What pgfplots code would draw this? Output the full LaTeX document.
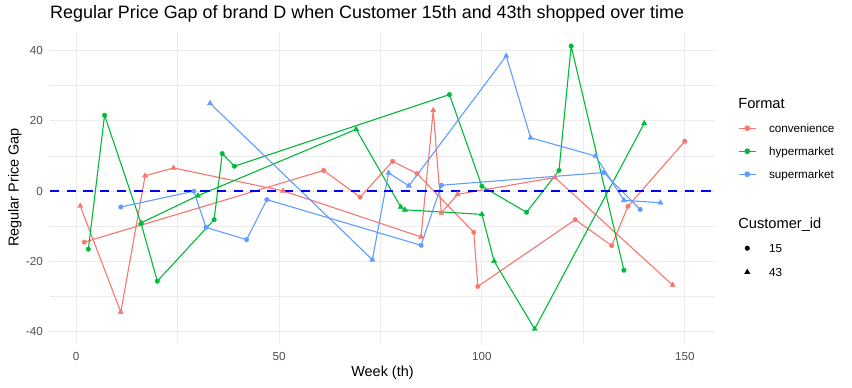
\documentclass[border=0pt]{standalone}
\usepackage{fontspec}
\setmainfont{Liberation Sans}
\usepackage{pgfplots}
\pgfplotsset{compat=1.18}
\definecolor{conv}{HTML}{F8766D}
\definecolor{hyper}{HTML}{00BA38}
\definecolor{super}{HTML}{619CFF}
\definecolor{gridc}{HTML}{EBEBEB}
\definecolor{tickc}{HTML}{4D4D4D}
\newcommand{\fs}[1]{\fontsize{#1}{#1}\selectfont}
\pgfplotsset{ptlegend/.style={legend image code/.code={\node[inner sep=0pt, outer sep=0pt, anchor=center, minimum width=0.6cm, minimum height=0.5pt, draw=none, fill=none] at (0.3cm,0cm) {}; \draw[##1, only marks, mark repeat=2, mark phase=2] plot coordinates {(0cm,0cm) (0.3cm,0cm) (0.6cm,0cm)};}}}
\begin{document}
\begin{tikzpicture}
\useasboundingbox (-50bp,-45bp) rectangle (802bp,343bp);
\begin{axis}[
 at={(0,0)}, anchor=south west,
 scale only axis, width=665bp, height=311bp,
 xmin=-6.45, xmax=157.45, ymin=-43.2, ymax=45.3,
 axis line style={draw=none},
 major tick length=0pt, minor tick length=0pt,
 xtick={0,50,100,150}, xticklabels={0,50,100,150},
 minor xtick={25,75,125},
 ytick={-40,-20,0,20,40}, yticklabels={-40,-20,0,20,40},
 minor ytick={-30,-10,10,30},
 grid=both,
 major grid style={gridc, line width=1bp},
 minor grid style={gridc, line width=0.55bp},
 xticklabel style={font=\fs{11.7}, text=tickc, anchor=north, inner sep=0pt, yshift=-8.8bp},
 yticklabel style={font=\fs{11.7}, text=tickc, anchor=east, inner sep=0pt, xshift=-7bp},
 xlabel={Week (th)}, ylabel={Regular Price Gap},
 xlabel style={font=\fs{14.5}, at={(axis description cs:0.5,-0.1093)}, anchor=base, inner sep=0pt},
 ylabel style={font=\fs{14.5}, at={(axis description cs:-0.0472,0.5)}, anchor=base, inner sep=0pt},
 title={Regular Price Gap of brand D when Customer 15th and 43th shopped over time},
 title style={font=\fs{18}, at={(axis description cs:0,1.0257)}, anchor=base west, inner sep=0pt},
 legend style={at={(axis description cs:1.0346,0.8151)}, anchor=north west, draw=none, fill=none, inner sep=0pt, row sep=0pt, column sep=12.7bp, nodes={inner sep=0pt, text depth=}, font=\fs{11.7}},
 legend cell align=left,
]
% convenience
\addplot[conv, line width=1.1bp, mark=*, mark size=2.3bp, mark options={solid, line width=0.3bp}, forget plot] coordinates {
(2,-14.5) (61,5.9) (70,-1.7) (78,8.5) (84,5.0) (98,-11.7) (99,-27.1) (123,-8.1) (132,-15.5) (136,-4.3) (150,14.2)};
\addplot[conv, line width=1.1bp, mark=triangle*, mark size=3.1bp, mark options={solid, line width=0.3bp}, forget plot] coordinates {
(1,-4.2) (11,-34.4) (17,4.4) (24,6.6) (51,0.1) (85,-13.0) (88,23.0) (90,-6.2) (94,-0.9) (118,3.9) (147,-26.7)};
% hypermarket
\addplot[hyper, line width=1.1bp, mark=*, mark size=2.3bp, mark options={solid, line width=0.3bp}, forget plot] coordinates {
(3,-16.5) (7,21.6) (16,-9.2) (20,-25.6) (34,-8.1) (36,10.7) (39,7.1) (92,27.5) (100,1.4) (111,-6.0) (119,5.9) (122,41.3) (135,-22.5)};
\addplot[hyper, line width=1.1bp, mark=triangle*, mark size=3.1bp, mark options={solid, line width=0.3bp}, forget plot] coordinates {
(16,-9.0) (30,-1.3) (69,17.6) (80,-4.5) (81,-5.3) (100,-6.6) (103,-19.9) (113,-39.2) (140,19.3)};
% supermarket
\addplot[super, line width=1.1bp, mark=*, mark size=2.3bp, mark options={solid, line width=0.3bp}, forget plot] coordinates {
(11,-4.5) (29,0.0) (32,-10.3) (42,-13.8) (47,-2.4) (85,-15.4) (90,1.7) (130,5.3) (139,-5.2)};
\addplot[super, line width=1.1bp, mark=triangle*, mark size=3.1bp, mark options={solid, line width=0.3bp}, forget plot] coordinates {
(33,25.0) (73,-19.5) (77,5.2) (82,1.5) (106,38.5) (112,15.2) (128,10.0) (135,-2.6) (144,-3.3)};
% reference line
\addplot[color=blue, line width=2.4bp, dash pattern=on 9.3bp off 7.4bp, forget plot] coordinates {(-6.45,0) (157.45,0)};
% legend
\addlegendimage{empty legend}
\addlegendentry{\hspace*{-30.7bp}\fs{14.7}\rule[-8.2bp]{0pt}{27bp}Format}
\addlegendimage{conv, line width=1.1bp, mark=*, mark size=2.3bp}
\addlegendentry{\rule[-7.3bp]{0pt}{23bp}convenience}
\addlegendimage{hyper, line width=1.1bp, mark=*, mark size=2.3bp}
\addlegendentry{\rule[-7.3bp]{0pt}{23bp}hypermarket}
\addlegendimage{super, line width=1.1bp, mark=*, mark size=2.3bp}
\addlegendentry{\rule[-7.3bp]{0pt}{23bp}supermarket}
\addlegendimage{empty legend}
\addlegendentry{\rule[-12bp]{0pt}{24bp}}
\addlegendimage{empty legend}
\addlegendentry{\hspace*{-30.7bp}\fs{14.7}\rule[-8.2bp]{0pt}{27bp}Customer\_id}
\addlegendimage{ptlegend, black, mark=*, mark size=2.3bp}
\addlegendentry{\rule[-7.3bp]{0pt}{23bp}15}
\addlegendimage{ptlegend, black, mark=triangle*, mark size=3.1bp}
\addlegendentry{\rule[-8.3bp]{0pt}{25bp}43}
\end{axis}
\end{tikzpicture}
\end{document}
